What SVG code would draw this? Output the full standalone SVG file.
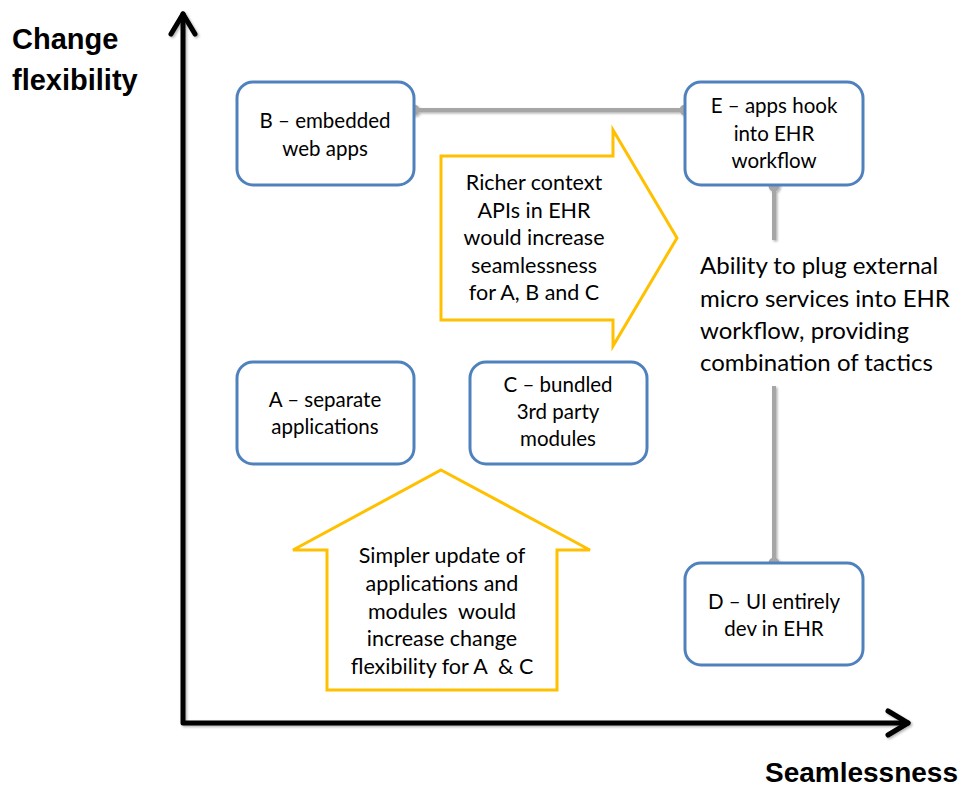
<svg xmlns="http://www.w3.org/2000/svg" width="963" height="789" viewBox="0 0 963 789">
  <style>
    .node rect { fill: #ffffff; stroke: #4f81bd; stroke-width: 3; }
    .txt { font-family: Lato, "Open Sans", "Liberation Sans", sans-serif; font-size: 20.5px; fill: #000000; white-space: pre; }
    .big { font-size: 21.5px; }
    .note { font-size: 24px; }
    .mid { text-anchor: middle; }
    .axis-label { font-family: "Liberation Sans", Arial, sans-serif; font-weight: bold; font-size: 29px; fill: #000000; }
    .axis { stroke: #000000; stroke-width: 5; fill: none; stroke-linecap: round; stroke-linejoin: round; }
    .link { stroke: #a6a6a6; stroke-width: 4; fill: none; }
    .dot { fill: #a6a6a6; }
    .block { fill: #ffffff; stroke: #ffc000; stroke-width: 3; }
  </style>
  <defs>
    <filter id="shadow" x="-10%" y="-10%" width="120%" height="120%">
      <feDropShadow dx="1.5" dy="1.5" stdDeviation="1.2" flood-color="#000000" flood-opacity="0.3"/>
    </filter>
  </defs>

  <rect width="963" height="789" fill="#ffffff"/>

  <!-- axes -->
  <g id="axes" filter="url(#shadow)">
    <path class="axis" d="M183,14 V723 H908"/>
    <path class="axis" d="M171,34 L183,14 L195,34"/>
    <path class="axis" d="M888,711 L908,723 L888,735"/>
  </g>
  <text class="axis-label" x="12" y="49">Change</text>
  <text class="axis-label" x="12" y="90">flexibility</text>
  <text class="axis-label" x="958" y="782" text-anchor="end" style="font-size:28px">Seamlessness</text>

  <!-- connectors -->
  <g id="connectors" filter="url(#shadow)">
    <line class="link" x1="414" y1="110" x2="685" y2="110"/>
    <line class="link" x1="774" y1="186" x2="774" y2="240"/>
    <line class="link" x1="774" y1="386" x2="774" y2="563"/>
    <circle class="dot" cx="414" cy="110" r="5.5"/>
    <circle class="dot" cx="685" cy="110" r="5.5"/>
    <circle class="dot" cx="774" cy="186" r="5.5"/>
    <circle class="dot" cx="774" cy="563" r="5.5"/>
  </g>

  <!-- block arrows -->
  <g id="arrow-right">
    <path class="block" d="M441,156 H613 V130 L677,238 L613,346 V320 H441 Z"/>
    <text class="txt big mid" x="534" y="190">Richer context</text>
    <text class="txt big mid" x="534" y="218">APIs in EHR</text>
    <text class="txt big mid" x="534" y="245">would increase</text>
    <text class="txt big mid" x="534" y="273">seamlessness</text>
    <text class="txt big mid" x="534" y="300">for A, B and C</text>
  </g>
  <g id="arrow-up">
    <path class="block" d="M441,470 L590,550 H557 V690 H327 V550 H293 Z"/>
    <text class="txt big mid" x="442" y="563">Simpler update of</text>
    <text class="txt big mid" x="442" y="591">applications and</text>
    <text class="txt big mid" x="442" y="619">modules  would</text>
    <text class="txt big mid" x="442" y="646">increase change</text>
    <text class="txt big mid" x="442" y="674">flexibility for A  &amp; C</text>
  </g>

  <!-- nodes -->
  <g id="node-b" class="node">
    <rect x="237" y="82" width="177" height="103" rx="16"/>
    <text class="txt mid" x="325" y="128">B – embedded</text>
    <text class="txt mid" x="325" y="156">web apps</text>
  </g>
  <g id="node-e" class="node">
    <rect x="685" y="82" width="178" height="103" rx="16"/>
    <text class="txt mid" x="774" y="113">E – apps hook</text>
    <text class="txt mid" x="774" y="141">into EHR</text>
    <text class="txt mid" x="774" y="168">workflow</text>
  </g>
  <g id="node-a" class="node">
    <rect x="237" y="362" width="177" height="102" rx="16"/>
    <text class="txt mid" x="325" y="407">A – separate</text>
    <text class="txt mid" x="325" y="434">applications</text>
  </g>
  <g id="node-c" class="node">
    <rect x="470" y="362" width="177" height="102" rx="16"/>
    <text class="txt mid" x="558" y="392">C – bundled</text>
    <text class="txt mid" x="558" y="419">3rd party</text>
    <text class="txt mid" x="558" y="446">modules</text>
  </g>
  <g id="node-d" class="node">
    <rect x="685" y="563" width="178" height="102" rx="16"/>
    <text class="txt mid" x="774" y="609">D – UI entirely</text>
    <text class="txt mid" x="774" y="636">dev in EHR</text>
  </g>

  <!-- note on the E–D link -->
  <g id="note">
    <text class="txt note" x="700" y="274">Ability to plug external</text>
    <text class="txt note" x="700" y="307">micro services into EHR</text>
    <text class="txt note" x="700" y="339">workflow, providing</text>
    <text class="txt note" x="700" y="371">combination of tactics</text>
  </g>
</svg>
